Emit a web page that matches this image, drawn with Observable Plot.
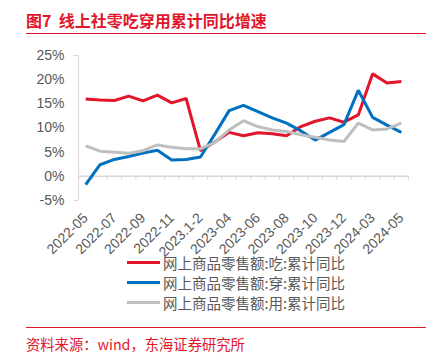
<!DOCTYPE html>
<html><head><meta charset="utf-8">
<script src="https://cdn.jsdelivr.net/npm/d3@7"></script>
<script src="https://cdn.jsdelivr.net/npm/@observablehq/plot@0.6"></script>
<style>
body{margin:0;background:#fff;font-family:"Liberation Sans","Noto Sans CJK SC",sans-serif;}
#wrap{position:relative;width:435px;height:357px;overflow:hidden;}
#title{position:absolute;left:26px;top:8px;font-family:"Noto Sans CJK SC",sans-serif;font-weight:bold;font-size:16px;color:#E2152B;line-height:24px;white-space:nowrap;}
.hr{position:absolute;left:26px;width:400px;height:1.5px;background:#E2152B;}
#chart{position:absolute;left:0;top:0;}
#legend{position:absolute;left:127px;top:252px;}
.row{height:20px;display:flex;align-items:center;white-space:nowrap;font-family:"Noto Sans CJK SC",sans-serif;font-size:14.5px;color:#595959;}
.sw{width:33px;height:3px;margin-right:3px;}
#src{position:absolute;left:26px;top:333px;font-family:"Noto Sans CJK SC",sans-serif;font-size:14.3px;color:#E2152B;line-height:22px;white-space:nowrap;}
</style></head>
<body><div id="wrap">
<div id="title">图7&nbsp;&nbsp;线上社零吃穿用累计同比增速</div>
<div class="hr" style="top:32.5px"></div>
<div id="chart"></div>
<div id="legend"></div>
<div class="hr" style="top:326.5px"></div>
<div id="src">资料来源：wind，东海证券研究所</div>
</div>
<script>
const months = ["2022-05","2022-06","2022-07","2022-08","2022-09","2022-10","2022-11","2022-12","2023.1-2","2023-03","2023-04","2023-05","2023-06","2023-07","2023-08","2023-09","2023-10","2023-11","2023-12","2024.1-2","2024-03","2024-04","2024-05"];
const eat  = [16.0,15.8,15.7,16.6,15.6,16.8,15.2,16.1,5.3,7.1,9.1,8.4,9.0,8.8,8.4,10.3,11.4,12.1,11.2,12.7,21.2,19.3,19.6];
const wear = [-1.7,2.4,3.5,4.1,4.8,5.4,3.4,3.5,4.0,8.7,13.6,14.7,13.4,12.1,11.0,9.4,7.5,9.1,10.7,17.8,12.2,10.6,9.1];
const use  = [6.3,5.2,5.0,4.8,5.3,6.5,6.0,5.7,5.7,7.0,9.6,11.5,10.3,9.6,9.3,8.6,8.1,7.5,7.2,11.0,9.6,9.8,11.0];
const seriesNames = ["网上商品零售额:吃:累计同比","网上商品零售额:穿:累计同比","网上商品零售额:用:累计同比"];
const colors = ["#E2152B","#0070C0","#BFBFBF"];
const yTicks = [-5,0,5,10,15,20,25];

const rows = [];
[eat, wear, use].forEach((arr, s) => arr.forEach((v, i) => rows.push({i, v, s: seriesNames[s]})));
const labelIdx = months.map((m, i) => i).filter(i => i % 2 === 0);
const bounds = d3.range(-0.5, months.length, 1);
const n = months.length;

const plot = Plot.plot({
  width: 435, height: 260,
  marginLeft: 78, marginRight: 27, marginTop: 55, marginBottom: 60,
  style: {fontFamily: "Liberation Sans, Arial, sans-serif", fontSize: "14px", color: "#595959", background: "transparent"},
  x: {type: "linear", domain: [-0.5, n - 0.5], label: null},
  y: {domain: [-5, 25], label: null},
  color: {domain: seriesNames, range: colors},
  marks: [
    Plot.ruleX([-0.5], {y1: -5, y2: 25, stroke: "#D9D9D9", strokeWidth: 1.2}),
    Plot.ruleY([-5, 25], {x1: -0.8, x2: -0.5, stroke: "#D9D9D9", strokeWidth: 1.2}),
    Plot.ruleY([0], {x1: -0.5, x2: n - 0.5, stroke: "#D9D9D9", strokeWidth: 1.5}),
    Plot.ruleX(bounds, {y1: 0, y2: -0.8, stroke: "#D9D9D9", strokeWidth: 1.2}),
    Plot.axisY({ticks: yTicks, tickFormat: d => d + "%", tickSize: 0, tickPadding: 14, fill: "#595959", fontSize: 14, label: null}),
    Plot.axisX({ticks: labelIdx, tickFormat: i => months[i], tickRotate: -45, tickSize: 0, tickPadding: 15, fill: "#595959", fontSize: 14, label: null}),
    Plot.line(rows, {x: "i", y: "v", z: "s", stroke: "s", strokeWidth: 3, strokeLinejoin: "miter", strokeLinecap: "butt"})
  ]
});
document.getElementById("chart").appendChild(plot);

const leg = document.getElementById("legend");
seriesNames.forEach((name, k) => {
  const r = document.createElement("div"); r.className = "row";
  const sw = document.createElement("span"); sw.className = "sw"; sw.style.background = colors[k];
  const t = document.createElement("span"); t.textContent = name;
  r.appendChild(sw); r.appendChild(t); leg.appendChild(r);
});
</script>
</body></html>
